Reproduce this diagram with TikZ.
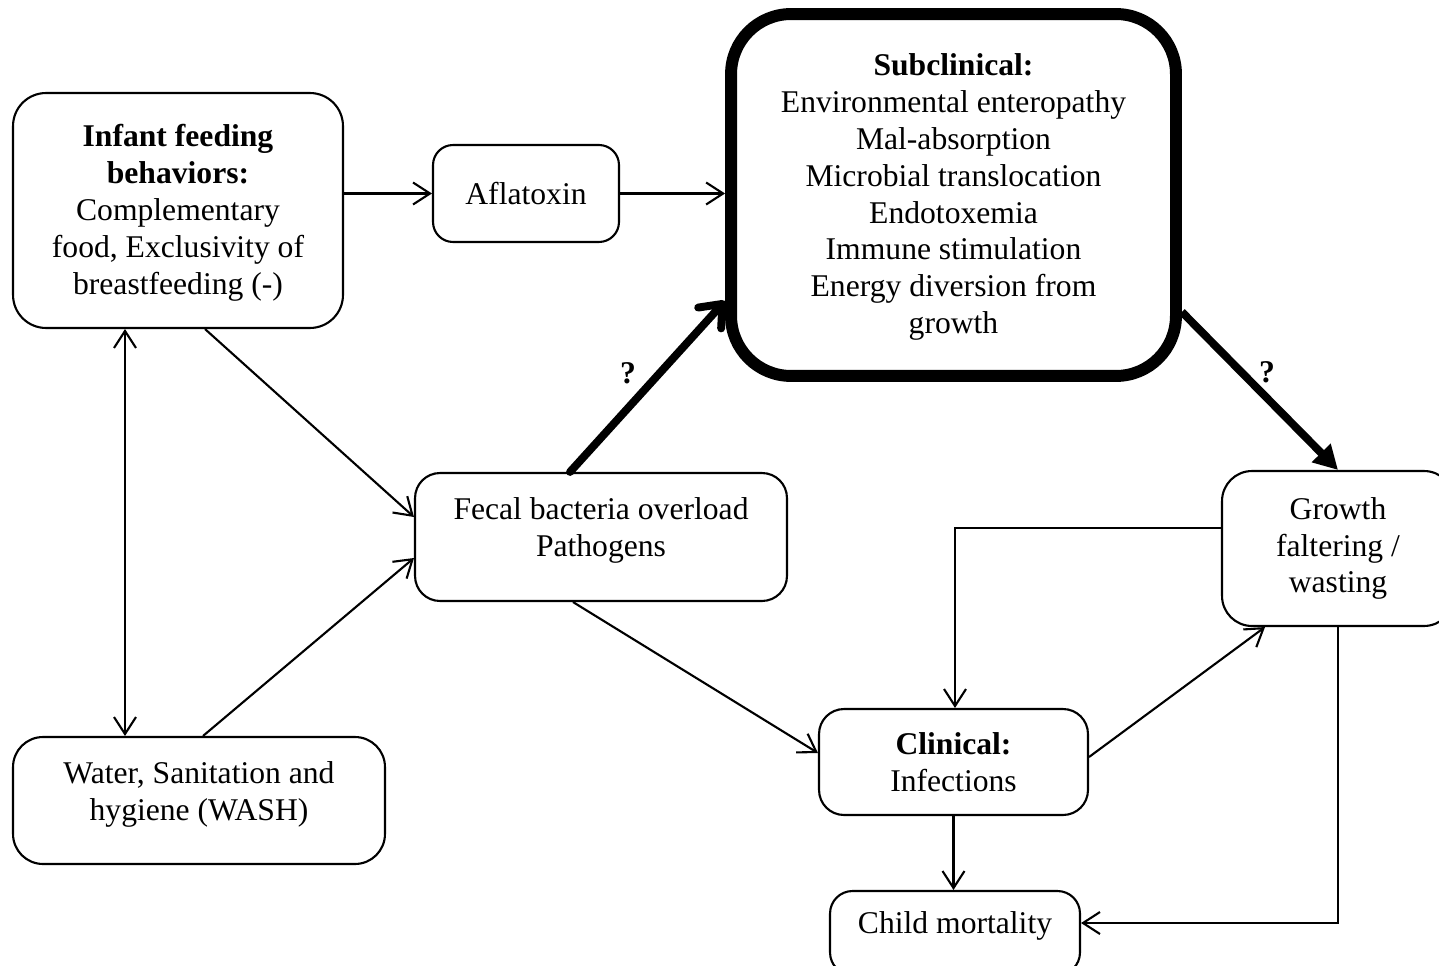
\documentclass[tikz,border=0pt]{standalone}
\usepackage{fontspec}
\setmainfont{Liberation Serif}
\usetikzlibrary{arrows.meta,calc}
\begin{document}
\begin{tikzpicture}[x=0.02cm,y=-0.02cm,
  box/.style={draw, line width=1.2pt, rounded corners=0.6cm, align=center, inner sep=0pt,
              font=\fontsize{18}{21}\selectfont},
  txt/.style={align=center, inner sep=0pt, font=\fontsize{18}{21}\selectfont},
  conn/.style={line width=1.2pt, -{Straight Barb[length=0.34cm,width=0.44cm,line width=1.2pt]}},
  dconn/.style={line width=1.2pt, {Straight Barb[length=0.34cm,width=0.44cm,line width=1.2pt]}-{Straight Barb[length=0.34cm,width=0.44cm,line width=1.2pt]}},
  thickbarb/.style={line width=4.5pt, line cap=round, -{Straight Barb[length=0.38cm,width=0.62cm,round]}},
  thicktri/.style={line width=4.5pt, -{Triangle[length=0.48cm,width=0.5cm]}},
  qmark/.style={inner sep=0pt, font=\fontsize{18}{21}\selectfont\bfseries}]
\useasboundingbox (0,0) rectangle (1439,966);
\clip (0,0) rectangle (1439,966);
\fill[white] (0,0) rectangle (1439,966);

% boxes
\node[box, minimum width=6.6cm, minimum height=4.7cm, rounded corners=0.66cm] (feed) at (178,210.5) {};
\node[txt] (feedtxt) at (178,213)
  {\textbf{Infant feeding}\\\textbf{behaviors:}\\Complementary\\food, Exclusivity of\\breastfeeding (-)};
\node[box, minimum width=3.72cm, minimum height=1.94cm, rounded corners=0.4cm] (afla) at (526,193.5) {Aflatoxin};
\node[box, line width=6.8pt, minimum width=8.9cm, minimum height=7.24cm, rounded corners=1.2cm] (sub) at (953.5,195) {};
\node[txt] (subtxt) at (953.5,197)
  {\textbf{Subclinical:}\\Environmental enteropathy\\Mal-absorption\\Microbial translocation\\Endotoxemia\\Immune stimulation\\Energy diversion from\\growth};
\node[box, minimum width=7.44cm, minimum height=2.56cm, rounded corners=0.5cm] (fecal) at (601,537) {};
\node[txt] (fecaltxt) at (601,530) {Fecal bacteria overload\\Pathogens};
\node[box, minimum width=4.64cm, minimum height=3.1cm, rounded corners=0.6cm] (growth) at (1338,548.5)
  {Growth\\faltering /\\wasting};
\node[box, minimum width=5.38cm, minimum height=2.12cm, rounded corners=0.5cm] (clin) at (953.5,762)
  {\textbf{Clinical:}\\Infections};
\node[box, minimum width=5cm, minimum height=1.68cm, rounded corners=0.45cm] (child) at (955,933) {};
\node[txt] (childtxt) at (955,926) {Child mortality};
\node[box, minimum width=7.44cm, minimum height=2.54cm, rounded corners=0.6cm] (wash) at (199,800.5) {};
\node[txt] (washtxt) at (199,794) {Water, Sanitation and\\hygiene (WASH)};

% question marks
\node[qmark] (q1) at (628,373) {?};
\node[qmark] (q2) at (1267,372) {?};

% helper coordinates
\coordinate (cx1) at (125,0);

% connectors
\draw[conn] (afla.west -| feed.east) -- (afla.west);
\draw[conn] (afla.east) -- (afla.east -| sub.west);
\draw[dconn] (cx1 |- feed.south) -- (cx1 |- wash.north);
\draw[conn] ([xshift=0.54cm]feed.south) -- ([yshift=0.4cm]fecal.west);
\draw[conn] ([xshift=0.08cm]wash.north) -- ([yshift=-0.42cm]fecal.west);
\draw[thickbarb] ([xshift=-0.62cm]fecal.north) -- ([yshift=-2.12cm]sub.west);
\draw[thicktri] ([yshift=-2.34cm]sub.east) -- (growth.north);
\draw[conn] ([xshift=-0.56cm]fecal.south) -- ([yshift=0.18cm]clin.west);
\draw[conn] ([yshift=0.1cm]clin.east) -- ([xshift=-1.46cm]growth.south);
\draw[conn] ([yshift=0.41cm]growth.west) -| ([xshift=0.03cm]clin.north);
\draw[conn] (clin.south) -- (clin.south |- child.north);
\draw[conn] (growth.south) |- ([yshift=0.2cm]child.east);
\end{tikzpicture}
\end{document}
